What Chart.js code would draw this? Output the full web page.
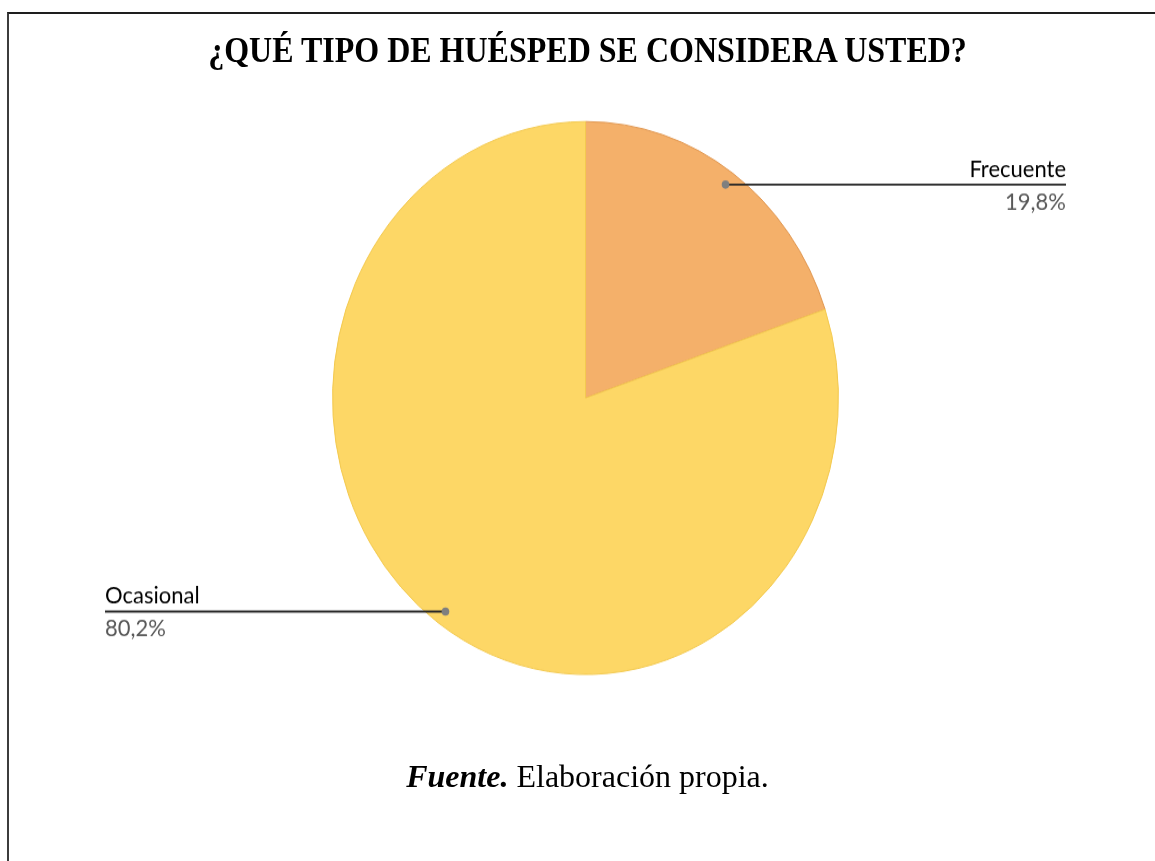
<!DOCTYPE html>
<html>
<head>
<meta charset="utf-8">
<script src="https://cdn.jsdelivr.net/npm/chart.js@4.4.1/dist/chart.umd.min.js"></script>
<style>
  html, body { margin: 0; padding: 0; background: #fff; }
  body { width: 1155px; height: 861px; position: relative; overflow: hidden; }
  .frame {
    position: absolute; left: 7px; top: 12px; width: 1200px; height: 900px;
    border-top: 2px solid #1e1e1e; border-left: 2px solid #3c3c3c;
  }
  .title {
    position: absolute; left: 10px; top: 32px; width: 1155px;
    font: bold 32px "Liberation Serif", "Times New Roman", serif;
    line-height: 32px; text-align: center; color: #000;
    transform: scaleY(1.12); transform-origin: top center;
  }
  .chart-box {
    position: absolute; left: 0; top: 0; width: 1155px; height: 700px;
    transform: scaleY(1.093); transform-origin: top left;
  }
  .source {
    position: absolute; left: 10px; top: 760px; width: 1155px;
    font: 32px "Liberation Serif", "Times New Roman", serif;
    line-height: 32px; text-align: center; color: #000;
  }
  .source b { font-style: italic; }
</style>
</head>
<body>
<div class="frame"></div>
<div class="chart-box"><canvas id="pieChart"></canvas></div>
<div class="title">¿QUÉ TIPO DE HUÉSPED SE CONSIDERA USTED?</div>
<div class="source"><b>Fuente.</b> Elaboración propia.</div>

<script>
// Chart data
const labels = ['Frecuente', 'Ocasional'];
const values = [19.8, 80.2];
const fillColors = ['#F4B06A', '#FDD766'];
const edgeColors = ['#E0964F', '#F3C94F'];

// Leader lines with category name above and percentage below
const leaderLabels = {
    id: 'leaderLabels',
    afterDatasetsDraw(chart) {
        const ctx = chart.ctx;
        const meta = chart.getDatasetMeta(0);
        meta.data.forEach((arc, i) => {
            const { x, y, startAngle, endAngle, outerRadius } =
                arc.getProps(['x', 'y', 'startAngle', 'endAngle', 'outerRadius'], true);
            const mid = (startAngle + endAngle) / 2;
            const px = x + Math.cos(mid) * outerRadius * 0.95;
            const py = y + Math.sin(mid) * outerRadius * 0.95;
            const right = Math.cos(mid) >= 0;
            const edgeX = right ? 1066 : 105;

            ctx.save();
            ctx.strokeStyle = '#262626';
            ctx.lineWidth = 1.9;
            ctx.beginPath();
            ctx.moveTo(px, py);
            ctx.lineTo(edgeX, py);
            ctx.stroke();

            ctx.fillStyle = '#7f7f7f';
            ctx.beginPath();
            ctx.arc(px, py, 3.8, 0, Math.PI * 2);
            ctx.fill();

            ctx.textAlign = right ? 'right' : 'left';
            ctx.textBaseline = 'alphabetic';
            ctx.font = '22px Lato, "Noto Sans", sans-serif';
            ctx.fillStyle = '#000';
            ctx.fillText(labels[i], edgeX, py - 7);
            ctx.fillStyle = '#595959';
            ctx.fillText(values[i].toFixed(1).replace('.', ',') + '%', edgeX, py + 23);
            ctx.restore();
        });
    }
};

document.addEventListener('DOMContentLoaded', () => {
    const ctx = document.getElementById('pieChart').getContext('2d');
    new Chart(ctx, {
        type: 'pie',
        data: {
            labels: labels,
            datasets: [{
                data: values,
                backgroundColor: fillColors,
                borderColor: edgeColors,
                borderWidth: 1
            }]
        },
        options: {
            responsive: true,
            maintainAspectRatio: false,
            animation: false,
            layout: { padding: { left: 332, right: 316, top: 110.7, bottom: 82.4 } },
            plugins: {
                legend: { display: false },
                tooltip: { enabled: false }
            }
        },
        plugins: [leaderLabels]
    });
});
</script>
</body>
</html>
